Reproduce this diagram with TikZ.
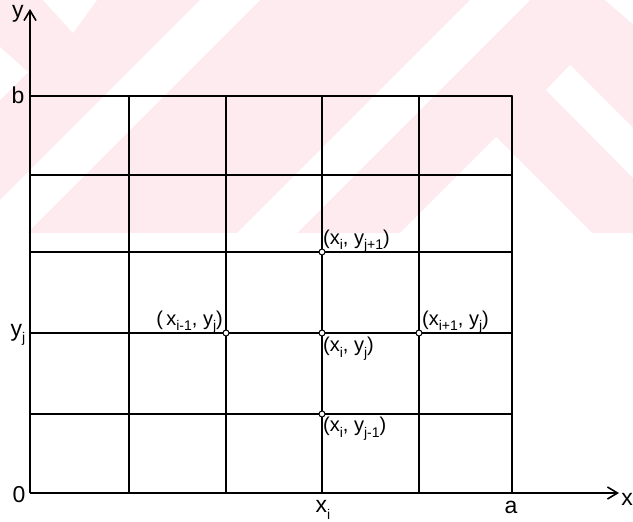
\documentclass[tikz,border=0pt]{standalone}
\usepackage{fontspec}
\setmainfont{Liberation Sans}
\usetikzlibrary{arrows.meta}
\definecolor{wmpink}{RGB}{253,235,239}
\newcommand{\sbs}[1]{\raisebox{-0.28em}{\fontsize{14pt}{14pt}\selectfont #1}}
\tikzset{
  gridline/.style={line width=1.4pt,line cap=round},
  stencil/.style={line width=2.4pt},
  axisline/.style={line width=2.4pt,-{Straight Barb[length=10pt,width=12pt,line width=1.6pt]}},
  gpt/.style={circle,draw,fill=white,line width=1pt,minimum size=6pt,inner sep=0pt},
  lbl/.style={inner sep=0pt,font=\fontsize{20pt}{22pt}\selectfont},
  axlbl/.style={inner sep=0pt,font=\fontsize{23pt}{25pt}\selectfont}
}
\begin{document}
\begin{tikzpicture}[x=1pt,y=-1pt]
\useasboundingbox (0,0) rectangle (633,522);
% watermark
\fill[wmpink] (0,0) rectangle (633,233);
\fill[white] (200,0) -- (260,0) -- (27,233) -- (-33,233) -- cycle;
\fill[white] (470,0) -- (530,0) -- (297,233) -- (237,233) -- cycle;
\fill[white] (43,0) -- (97,0) -- (73,33) -- cycle;
\fill[white] (0,47) -- (28,72) -- (0,100) -- cycle;
\fill[white] (496,137) -- (592,233) -- (400,233) -- cycle;
\fill[white] (570,65) -- (640,135) -- (640,185) -- (546,90) -- cycle;
\fill[white] (605,0) -- (640,0) -- (640,30) -- cycle;
% grid lines
\foreach \x in {129,226,322,419,512} \draw[gridline] (\x,96) -- (\x,493);
\foreach \y in {96,175,252,333,414} \draw[gridline] (30,\y) -- (512,\y);
% named points
\coordinate (O) at (30,493);
\coordinate (Ytip) at (30,9);
\coordinate (Xtip) at (619,493);
\node[gpt] (C) at (322,333) {};
\node[gpt] (W) at (226,333) {};
\node[gpt] (E) at (419,333) {};
\node[gpt] (N) at (322,252) {};
\node[gpt] (S) at (322,414) {};
% stencil
\draw[stencil] (W) -- (C) -- (E);
\draw[stencil] (N) -- (C) -- (S);
% axes
\draw[axisline] (O) -- (Ytip);
\draw[axisline] (O) -- (Xtip);
% point labels
\node[lbl,anchor=south east] (lW) at (223,334) {(\,x\sbs{i-1}, y\sbs{j})};
\node[lbl,anchor=south west] (lN) at (323,253) {(x\sbs{i}, y\sbs{j+1})};
\node[lbl,anchor=north west] (lC) at (323,337) {(x\sbs{i}, y\sbs{j})};
\node[lbl,anchor=north west] (lS) at (323,417) {(x\sbs{i}, y\sbs{j-1})};
\node[lbl,anchor=south west] (lE) at (422,334) {(x\sbs{i+1}, y\sbs{j})};
% axis labels
\node[axlbl] (ly) at (18,14) {y};
\node[axlbl] (lb) at (18,95) {b};
\node[axlbl] (lyj) at (18,335) {y\sbs{j}};
\node[axlbl] (l0) at (19,495) {0};
\node[axlbl] (lxi) at (323,510) {x\sbs{i}};
\node[axlbl] (la) at (511,507) {a};
\node[axlbl,anchor=east] (lx) at (633,499) {x};
\end{tikzpicture}
\end{document}
